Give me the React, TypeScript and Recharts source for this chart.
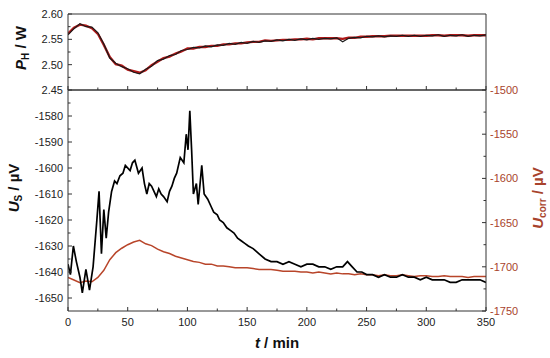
import React from 'react';
import { LineChart, Line, XAxis, YAxis } from 'recharts';

// time grid of the heater power and U_corr records (min)
const tGrid = [
  0, 5, 10, 15, 20, 25, 30, 35, 40, 45, 50, 55, 60, 65, 70, 75, 80, 85, 90, 95,
  100, 105, 110, 115, 120, 125, 130, 135, 140, 145, 150, 155, 160, 165, 170, 175, 180, 185, 190, 195,
  200, 205, 210, 215, 220, 225, 230, 235, 240, 245, 250, 255, 260, 265, 270, 275, 280, 285, 290, 295,
  300, 305, 310, 315, 320, 325, 330, 335, 340, 345, 350,
];

// heater power P_H (W), black and red records
const pBlack = [
  2.559, 2.571, 2.581, 2.575, 2.574, 2.563, 2.541, 2.513, 2.503, 2.496,
  2.492, 2.485, 2.482, 2.491, 2.497, 2.508, 2.511, 2.518, 2.52, 2.528,
  2.53, 2.534, 2.533, 2.537, 2.535, 2.539, 2.538, 2.542, 2.54, 2.544,
  2.542, 2.546, 2.544, 2.547, 2.546, 2.549, 2.547, 2.55, 2.548, 2.551,
  2.549, 2.552, 2.55, 2.552, 2.551, 2.553, 2.545, 2.552, 2.554, 2.553,
  2.556, 2.555, 2.557, 2.555, 2.557, 2.556, 2.558, 2.556, 2.558, 2.556,
  2.558, 2.557, 2.559, 2.556, 2.558, 2.557, 2.559, 2.556, 2.558, 2.557,
  2.559,
];
const pRed = [
  2.561, 2.573, 2.579, 2.577, 2.572, 2.561, 2.539, 2.515, 2.501, 2.498,
  2.49, 2.487, 2.484, 2.489, 2.499, 2.506, 2.513, 2.516, 2.522, 2.526,
  2.532, 2.532, 2.535, 2.535, 2.537, 2.537, 2.54, 2.54, 2.542, 2.542,
  2.544, 2.545, 2.545, 2.548, 2.547, 2.548, 2.549, 2.549, 2.55, 2.55,
  2.551, 2.55, 2.552, 2.552, 2.552, 2.552, 2.551, 2.553, 2.553, 2.555,
  2.555, 2.556, 2.556, 2.556, 2.557, 2.557, 2.557, 2.557, 2.557, 2.557,
  2.557, 2.558, 2.558, 2.557, 2.558, 2.558, 2.558, 2.557, 2.558, 2.558,
  2.558,
];

// U_corr (µV), right axis
const uCorr = [
  -1712, -1715, -1718, -1716, -1717, -1712, -1704, -1692, -1684, -1679,
  -1675, -1672, -1670, -1674, -1676, -1680, -1683, -1685, -1688, -1690,
  -1692, -1694, -1695, -1697, -1697, -1699, -1699, -1700, -1701, -1701,
  -1701, -1702, -1703, -1703, -1703, -1704, -1705, -1705, -1705, -1706,
  -1706, -1707, -1706, -1707, -1708, -1707, -1708, -1708, -1709, -1708,
  -1709, -1709, -1710, -1709, -1710, -1710, -1709, -1710, -1711, -1710,
  -1710, -1711, -1711, -1710, -1711, -1711, -1711, -1712, -1711, -1711,
  -1711,
];

// U_S (µV), left axis, own time points
const tS = [
  0, 2, 4.5, 7, 10, 12, 15, 18, 21, 24, 26, 28, 30, 32, 34, 36.5, 39, 41, 43.5, 46,
  48, 52, 54, 56, 59, 62, 64, 66, 68, 70, 72, 74, 76, 78, 80, 83, 85, 87, 89, 91,
  94, 97, 99, 100.5, 102, 103.5, 105, 107.5, 109, 112, 114, 117, 120, 122, 125, 127, 130, 133, 136, 139,
  142, 145, 148, 151, 155, 160, 165, 170, 175, 180, 185, 190, 195, 200, 205, 210, 215, 220, 225, 230,
  234, 238, 242, 246, 250, 255, 260, 265, 270, 275, 280, 285, 290, 295, 300, 305, 310, 315, 320, 325,
  330, 335, 340, 345, 350,
];
const uS = [
  -1637, -1641, -1630, -1636, -1642, -1648, -1639, -1647, -1638, -1621, -1609, -1633, -1616, -1627, -1617, -1609, -1605, -1606, -1603, -1602,
  -1599, -1601, -1598, -1597, -1602, -1600, -1606, -1610, -1606, -1607, -1609, -1611, -1608, -1610, -1611, -1613, -1609, -1607, -1604, -1602,
  -1596, -1598, -1587, -1593, -1578, -1593, -1610, -1606, -1614, -1599, -1610, -1612, -1615, -1617, -1618, -1620, -1621, -1623, -1624, -1625,
  -1627, -1628, -1629, -1630, -1631, -1633, -1635, -1636, -1636, -1637, -1636, -1637, -1638, -1637, -1637, -1638, -1638, -1639, -1638, -1638,
  -1636, -1638, -1640, -1640, -1641, -1641, -1642, -1641, -1642, -1642, -1641, -1642, -1642, -1643, -1642, -1643, -1643, -1643, -1644, -1644,
  -1643, -1643, -1643, -1643, -1644,
];

const xTicks = [0, 25, 50, 75, 100, 125, 150, 175, 200, 225, 250, 275, 300, 325, 350];
const xMajor = [0, 50, 100, 150, 200, 250, 300, 350];
const pTicks = [2.45, 2.475, 2.5, 2.525, 2.55, 2.575, 2.6];
const pMajor = [2.45, 2.5, 2.55, 2.6];
const sTicks = [-1650, -1645, -1640, -1635, -1630, -1625, -1620, -1615, -1610, -1605, -1600, -1595, -1590, -1585, -1580, -1575];
const sMajor = [-1650, -1640, -1630, -1620, -1610, -1600, -1590, -1580];
const cTicks = [-1750, -1725, -1700, -1675, -1650, -1625, -1600, -1575, -1550, -1525, -1500];
const cMajor = [-1750, -1700, -1650, -1600, -1550, -1500];

const FONT = '"Liberation Sans", Arial, sans-serif';
const AXIS = '#333';
const RED_TXT = '#a8432c';

const topBlack = tGrid.map((t, i) => ({ t, v: pBlack[i] }));
const topRed = tGrid.map((t, i) => ({ t, v: pRed[i] }));
const corrData = tGrid.map((t, i) => ({ t, v: uCorr[i] }));
const sData = tS.map((t, i) => ({ t, v: uS[i] }));

const near = (list: number[], v: number) => list.some((m) => Math.abs(m - v) < 1e-6);

// x ticks drawn inward; dir = -1 points up, 1 points down
const xTick = (dir: number, labels: boolean) => (p: any) => {
  const major = near(xMajor, p.payload.value);
  const len = major ? 4 : 2.5;
  return (
    <g>
      <line x1={p.x} x2={p.x} y1={p.y} y2={p.y + dir * len} stroke={AXIS} />
      {labels && major && (
        <text x={p.x} y={p.y + 15} textAnchor="middle" fontSize={11} fontFamily={FONT} fill="#222">
          {p.payload.value}
        </text>
      )}
    </g>
  );
};

const leftTick = (majors: number[], fmt: (v: number) => string) => (p: any) => {
  const major = near(majors, p.payload.value);
  return (
    <g>
      <line x1={p.x} x2={p.x + (major ? 4 : 2.5)} y1={p.y} y2={p.y} stroke={AXIS} />
      {major && (
        <text x={p.x - 5} y={p.y + 4} textAnchor="end" fontSize={11} fontFamily={FONT} fill="#222">
          {fmt(p.payload.value)}
        </text>
      )}
    </g>
  );
};

const rightTick = (p: any) => {
  const major = near(cMajor, p.payload.value);
  return (
    <g>
      <line x1={p.x} x2={p.x - (major ? 4 : 2.5)} y1={p.y} y2={p.y} stroke={AXIS} />
      {major && (
        <text x={p.x + 4} y={p.y + 4} textAnchor="start" fontSize={11} fontFamily={FONT} fill={RED_TXT}>
          {p.payload.value}
        </text>
      )}
    </g>
  );
};

export default function App() {
  return (
    <div style={{ position: 'absolute', left: 0, top: 0, width: 550, height: 358, background: '#fff' }}>
      {/* heater power panel */}
      <div style={{ position: 'absolute', left: 0, top: 0 }}>
        <LineChart width={550} height={100} margin={{ top: 13, right: 0, bottom: 9, left: 0 }}>
          <XAxis dataKey="t" type="number" domain={[0, 350]} ticks={xTicks} interval={0} height={1}
            allowDataOverflow axisLine={{ stroke: AXIS }} tickLine={false} tickSize={0} tickMargin={0} tick={xTick(-1, false)} />
          <XAxis xAxisId="top" orientation="top" dataKey="t" type="number" domain={[0, 350]} height={1}
            axisLine={{ stroke: AXIS }} tickLine={false} tick={false} />
          <YAxis type="number" domain={[2.45, 2.6]} ticks={pTicks} interval={0} width={68} allowDataOverflow
            axisLine={{ stroke: AXIS }} tickLine={false} tickSize={0} tickMargin={0} tick={leftTick(pMajor, (v) => v.toFixed(2))} />
          <YAxis yAxisId="r" orientation="right" type="number" domain={[2.45, 2.6]} width={64}
            axisLine={{ stroke: AXIS }} tickLine={false} tick={false} />
          <Line data={topRed} dataKey="v" stroke="#b01818" strokeWidth={2.4} dot={false} isAnimationActive={false} />
          <Line data={topBlack} dataKey="v" stroke="#1a1a1a" strokeWidth={1.2} dot={false} isAnimationActive={false} />
        </LineChart>
      </div>

      {/* thermovoltage panel */}
      <div style={{ position: 'absolute', left: 0, top: 80 }}>
        <LineChart width={550} height={278} margin={{ top: 9, right: 0, bottom: 0, left: 0 }}>
          <XAxis dataKey="t" type="number" domain={[0, 350]} ticks={xTicks} interval={0} height={47}
            allowDataOverflow axisLine={{ stroke: AXIS }} tickLine={false} tickSize={0} tickMargin={0} tick={xTick(-1, true)} />
          <XAxis xAxisId="top" orientation="top" dataKey="t" type="number" domain={[0, 350]} ticks={xTicks} interval={0} height={1}
            axisLine={{ stroke: AXIS }} tickLine={false} tickSize={0} tickMargin={0} tick={xTick(1, false)} />
          <YAxis type="number" domain={[-1655, -1570]} ticks={sTicks} interval={0} width={68} allowDataOverflow
            axisLine={{ stroke: AXIS }} tickLine={false} tickSize={0} tickMargin={0} tick={leftTick(sMajor, (v) => String(v))} />
          <YAxis yAxisId="r" orientation="right" type="number" domain={[-1750, -1500]} ticks={cTicks} interval={0} width={64}
            allowDataOverflow axisLine={{ stroke: AXIS }} tickLine={false} tickSize={0} tickMargin={0} tick={rightTick} />
          <Line data={corrData} yAxisId="r" dataKey="v" stroke="#b8452a" strokeWidth={1.5} dot={false} isAnimationActive={false} />
          <Line data={sData} dataKey="v" stroke="#000" strokeWidth={1.7} dot={false} isAnimationActive={false} />
        </LineChart>
      </div>

      {/* axis titles */}
      <svg width={550} height={358} style={{ position: 'absolute', left: 0, top: 0, pointerEvents: 'none' }}
        fontFamily={FONT} fontWeight="bold">
        <text transform="translate(26,48) rotate(-90)" textAnchor="middle" fontSize={15} fill="#111">
          <tspan fontStyle="italic">P</tspan>
          <tspan fontSize={10} dy={3}>H</tspan>
          <tspan dy={-3}> / W</tspan>
        </text>
        <text transform="translate(19,188) rotate(-90)" textAnchor="middle" fontSize={15} fill="#111">
          <tspan fontStyle="italic">U</tspan>
          <tspan fontSize={10} dy={3}>S</tspan>
          <tspan dy={-3}> / µV</tspan>
        </text>
        <text transform="translate(543,198) rotate(-90)" textAnchor="middle" fontSize={15} fill={RED_TXT}>
          <tspan fontStyle="italic">U</tspan>
          <tspan fontSize={10} dy={3}>corr</tspan>
          <tspan dy={-3}> / µV</tspan>
        </text>
        <text x={277} y={348} textAnchor="middle" fontSize={15} fill="#111">
          <tspan fontStyle="italic">t</tspan> / min
        </text>
      </svg>
    </div>
  );
}
